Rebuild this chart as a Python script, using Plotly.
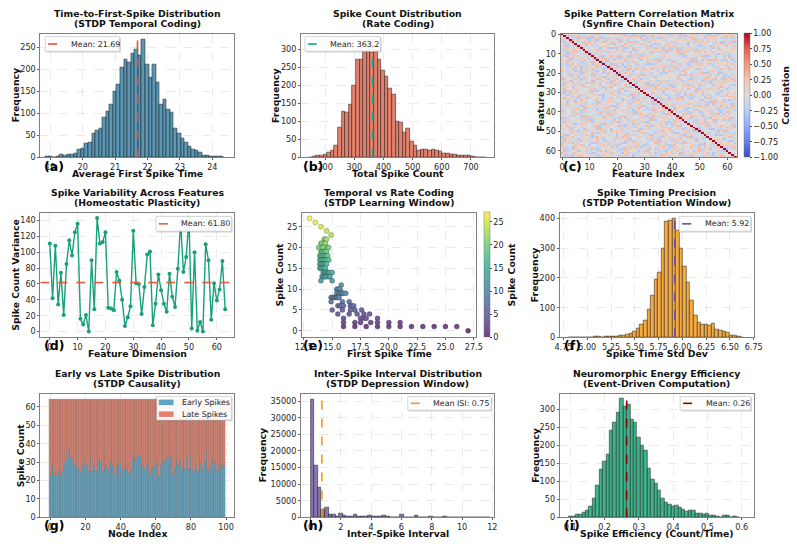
import plotly.graph_objects as go

W, H = 797, 549
FONT = "DejaVu Sans"

# ---------------- data ----------------
FIRST_SPIKE_BIN_START = 18.85
FIRST_SPIKE_BIN_WIDTH = 0.11
FIRST_SPIKE_COUNTS = [1, 1, 0, 1, 7, 5, 7, 6, 10, 18, 20, 31, 33, 55, 62, 66, 91, 105, 120, 150,
                      166, 205, 222, 216, 236, 245, 233, 268, 211, 183, 211, 170, 121, 132, 110,
                      102, 65, 54, 43, 35, 26, 18, 15, 11, 5, 4, 2, 2, 1, 1]
FIRST_SPIKE_MEAN = 21.69

SPIKE_COUNT_BIN_START = 145
SPIKE_COUNT_BIN_WIDTH = 12.35
SPIKE_COUNT_COUNTS = [1, 2, 4, 6, 8, 15, 18, 33, 82, 128, 125, 147, 200, 272, 270, 295, 327, 290,
                      300, 272, 240, 225, 190, 175, 100, 98, 68, 80, 45, 32, 20, 22, 22, 18, 22,
                      20, 16, 12, 10, 9, 8, 6, 5, 4, 4, 3, 1, 1, 1]
SPIKE_COUNT_MEAN = 363.2

# lower triangle of the correlation matrix, one digit per cell: value = (digit-4)*step
CORR_STEP = 0.1
CORR_ROWS = [
    "4536245137462534716243574265315476324516372453612754362417536245",
    "3654271536432574615324763514273645125376423157463524176354217465",
    "5243671453264751326457231645372415637245136742531674253614725364",
    "2645317546234157362451736245371564324617536241573462531746253174",
    "4375126435724615374263517462354174265317462351647325416735241675",
    "6234517436257143625744351264733526415437263345162744356213574436",
    "3544627335146452736443517246335427614453362741554632147365443625",
    "4426375315446237455136427334652714456335241762453346157243654431",
    "5334624475163342576643135724463155742364431265734452631475344263",
    "2465344153627745332641457365243317456624354137462553146274433562",
    "4637253344165427336542471355264431736524453617234465325714436355",
    "3452664713342556743154426357341465237154436627345514263374465231",
    "5643321745536244735162344575126634453271564433625147354426735443",
    "4315576234446521374653342617455363241775343526614437253346521476",
    "3646453172445367215344763526147354436251743365424715634452367143",
    "5423374654136625437714453362745136424557316453342671543365427134",
    "4356214736453547126634455217364435265137446235574131645236475344",
    "6344527135644372155364427315463342671445356127436345217564423365",
    "3527464315543622746531446357243316452776341435256344716524433657",
    "4463125574346621537354426147365334572164453362745134465237155426",
    "5236447315624437652143356724415363427154663352471446325731645442",
    "3414576623543317465264435271563344126574335461273654431576234465",
    "4652331746544236715346227534416653247315446623571435442673154336",
    "2574436615234475532614634574213365447261535442367154326647354413",
    "4345165273644531726456334271546653324471536446251733546214567344",
    "5637241443565232714465367312544635216745344563127463355241744635",
    "3426554731452366741352446573213645547326414536647231554463721546",
    "4553217664335427416535247361445337265144635723461546334275163452",
    "3664451327543362147465533416725443362175346644532174356273441563",
    "5235647413346526371445635247316533447261536645321574463325764143",
    "4446325176534413627554362314675443526137645335214763445627315436",
    "3572466314554236174325564137245363442716553344276135462473516344",
]

FEATURE_VARIANCE = [111, 42, 108, 34, 74, 21, 85, 115, 96, 125, 136, 16, 9, 21, 0, 90, 28, 143,
                    111, 113, 125, 30, 29, 27, 75, 64, 40, 7, 18, 32, 127, 61, 60, 22, 56, 97,
                    101, 8, 35, 72, 52, 35, 25, 73, 44, 31, 79, 138, 75, 94, 143, 4, 100, 1, 12,
                    0, 110, 90, 15, 61, 39, 53, 89, 28]
FEATURE_VARIANCE_MEAN = 61.80

SCATTER_TIME = [13.0, 13.5, 14.0, 14.5, 14.9,
                14.3, 14.4, 14.5,
                14.0, 14.1, 14.3, 14.4,
                13.8, 14.1, 14.2, 14.6, 14.7,
                14.0, 14.1, 14.2, 14.3, 14.4, 14.5,
                13.9, 14.0, 14.1, 14.2, 14.3, 14.4, 14.5, 14.6,
                13.9, 14.0, 14.1, 14.2, 14.3, 14.4, 14.5, 14.7,
                13.9, 14.0, 14.1, 14.2, 14.3, 14.4, 14.5,
                13.9, 14.0, 14.1, 14.2, 14.3, 14.4,
                14.2, 14.3, 14.4, 14.5, 14.6, 14.7, 14.8, 15.0,
                14.1, 14.2, 14.3, 14.4, 14.5, 14.7, 14.8,
                14.0, 15.0,
                15.8,
                15.4, 15.5, 15.6, 15.7,
                15.4, 15.6, 15.7, 15.8, 15.9, 16.0, 16.2,
                14.9, 15.0, 15.1, 15.2, 15.3, 15.4, 15.5, 15.6,
                14.9, 15.9, 16.5,
                15.5, 15.7, 15.8, 16.0, 16.6, 16.7, 16.9,
                15.0, 15.9, 16.6, 17.0, 17.6,
                15.5, 16.5, 17.2, 17.8, 18.3,
                16.0, 17.5, 17.8, 18.0, 19.0,
                16.0, 17.0, 17.5, 18.4, 19.0, 20.0, 21.0,
                16.0, 17.0, 18.0, 19.0, 20.0, 21.0, 22.0, 23.0, 24.0, 25.0, 26.0,
                27.0]
SCATTER_COUNT = ([27, 26, 25, 24, 23] + [22] * 3 + [21] * 4 + [20] * 5 + [19] * 6 + [18] * 8
                 + [17] * 8 + [16] * 7 + [15] * 6 + [14] * 8 + [13] * 7 + [12] * 2 + [11]
                 + [10] * 4 + [9] * 7 + [8] * 8 + [7] * 3 + [6] * 7 + [5] * 5 + [4] * 5
                 + [3] * 5 + [2] * 7 + [1] * 11 + [0])

PRECISION_BIN_START = 4.803
PRECISION_BIN_WIDTH = 0.0376
PRECISION_COUNTS = [1, 0, 1, 0, 1, 0, 1, 2, 2, 1, 2, 2, 3, 3, 6, 8, 10, 13, 20, 30,
                    45, 58, 95, 140, 195, 218, 300, 390, 393, 400, 360, 300, 240, 185, 124, 75, 50,
                    44, 42, 40, 47, 28, 22, 20, 15, 8, 5, 3, 1]
PRECISION_MEAN = 5.92

EARLY_SPIKES = [23, 28, 24, 23, 23, 25, 23, 25, 30, 32, 27, 37, 32, 32, 28, 28, 26, 25, 28, 26,
                30, 28, 25, 32, 25, 28, 25, 32, 31, 30, 25, 27, 28, 26, 30, 36, 28, 23, 28, 28,
                30, 25, 27, 29, 26, 24, 26, 32, 31, 32, 34, 33, 30, 27, 26, 29, 26, 23, 27, 27,
                19, 30, 22, 28, 31, 30, 32, 32, 27, 33, 23, 27, 31, 28, 31, 26, 32, 26, 32, 26,
                34, 26, 25, 28, 25, 31, 29, 26, 30, 36, 25, 27, 31, 26, 29, 25, 29, 26, 28, 28]
TOTAL_SPIKES = 64

ISI_BIN_START = 0.0
ISI_BIN_WIDTH = 0.237
ISI_COUNTS = [35500, 15700, 9100, 2300, 2900, 800, 800, 400, 1200, 500,
              400, 300, 800, 300, 200, 200, 700, 200, 200, 200,
              600, 150, 100, 100, 100, 800, 100, 100, 100, 500,
              100, 100, 100, 400, 100, 100, 100, 250, 50, 50,
              50, 50, 100, 50, 50, 50, 50, 50, 50, 50]
ISI_MEAN = 0.75

EFF_BIN_START = 0.0947
EFF_BIN_WIDTH = 0.01
EFF_COUNTS = [2, 3, 7, 9, 13, 18, 30, 52, 88, 133, 155, 175, 240, 262, 290, 328, 308, 313, 272, 263,
              222, 198, 185, 135, 105, 95, 75, 52, 40, 35, 30, 32, 28, 22, 17, 18, 18, 12, 12, 8,
              12, 5, 4, 3, 1, 4, 4, 1, 2, 1]
EFF_MEAN = 0.2645

# ---------------- colours ----------------
C_A, C_A_MEAN = "rgb(90,152,182)", "#e74c3c"
C_B, C_B_MEAN = "rgb(226,128,108)", "#17a589"
C_D, C_D_MEAN = "#17a07a", "#e05d44"
C_F, C_F_MEAN = "rgb(246,170,64)", "#6c4fa0"
C_EARLY, C_LATE = "rgb(95,164,196)", "rgb(228,128,108)"
C_H, C_H_MEAN = "rgb(137,118,176)", "#f39c12"
C_I, C_I_MEAN = "rgb(64,178,138)", "#8b0000"

# ---------------- layout helpers ----------------
BOXES = [  # x0, x1, y0, y1 in pixels
    (34, 232, 30, 156), (300, 497, 30, 156), (565, 745, 30, 156),
    (34, 232, 212, 339), (301, 479, 212, 339), (564, 762, 212, 339),
    (34, 232, 396, 522), (300, 497, 396, 522), (564, 762, 396, 522),
]

TICK_SIZE = 8.1
LABEL_SIZE = 9.3
LEG_SIZE = 7.9


def px(p):
    return p / W


def py(p):
    return 1 - p / H


def sfx(i):
    return "" if i == 1 else str(i)


COOLWARM = [[0.0, "rgb(59,76,192)"], [0.125, "rgb(98,130,234)"], [0.25, "rgb(141,176,254)"],
            [0.375, "rgb(184,208,249)"], [0.5, "rgb(221,221,221)"], [0.625, "rgb(245,196,173)"],
            [0.75, "rgb(244,154,123)"], [0.875, "rgb(222,96,77)"], [1.0, "rgb(180,4,38)"]]
VIR = ["#440154", "#482878", "#3e4989", "#31688e", "#26828e", "#1f9e89", "#35b779", "#6ece58",
       "#b5de2b", "#fde725"]


def fade(h, a=0.75):
    r, g, b = int(h[1:3], 16), int(h[3:5], 16), int(h[5:7], 16)
    return "rgb(%d,%d,%d)" % tuple(round(a * c + (1 - a) * 255) for c in (r, g, b))


VIRIDIS_FADED = [[k / (len(VIR) - 1), fade(c)] for k, c in enumerate(VIR)]

fig = go.Figure()
EDGE = dict(color="rgba(25,25,25,0.75)", width=0.7)


def hist(i, start, width, counts, color):
    centers = [start + width * (k + 0.5) for k in range(len(counts))]
    fig.add_trace(go.Bar(x=centers, y=counts, width=width, marker=dict(color=color, line=EDGE),
                         showlegend=False, hoverinfo="skip",
                         xaxis="x" + sfx(i), yaxis="y" + sfx(i)))


def vline(i, xval, yr, color, name):
    fig.add_trace(go.Scatter(x=[xval, xval], y=yr, mode="lines", name=name, showlegend=False,
                             line=dict(color=color, width=1.6, dash="dash"),
                             xaxis="x" + sfx(i), yaxis="y" + sfx(i)))


# (a)
hist(1, FIRST_SPIKE_BIN_START, FIRST_SPIKE_BIN_WIDTH, FIRST_SPIKE_COUNTS, C_A)
vline(1, FIRST_SPIKE_MEAN, [0, 282], C_A_MEAN, f"Mean: {FIRST_SPIKE_MEAN:.2f}")
# (b)
hist(2, SPIKE_COUNT_BIN_START, SPIKE_COUNT_BIN_WIDTH, SPIKE_COUNT_COUNTS, C_B)
vline(2, SPIKE_COUNT_MEAN, [0, 343], C_B_MEAN, f"Mean: {SPIKE_COUNT_MEAN:.1f}")

# (c)
N = 64
corr_digits = "".join(CORR_ROWS)
Z = [[0.0] * N for _ in range(N)]
k = 0
for r in range(N):
    Z[r][r] = 1.0
    for c in range(r):
        v = (int(corr_digits[k % len(corr_digits)]) - 4) * CORR_STEP
        k += 1
        Z[r][c] = v
        Z[c][r] = v


def cbar(x, y1, length, tickvals, title, fmt=None):
    d = dict(x=px(x), xanchor="left", xpad=0, y=py(y1), yanchor="bottom",
             len=length / H, lenmode="fraction", thickness=6, thicknessmode="pixels", ypad=0,
             outlinewidth=0.5, outlinecolor="#777", ticks="outside", ticklen=2,
             tickvals=tickvals, tickfont=dict(size=TICK_SIZE, family=FONT, color="#222"),
             title=dict(text=f"<b>{title}</b>", side="right",
                        font=dict(size=LABEL_SIZE, family=FONT, color="#111")))
    if fmt:
        d["tickformat"] = fmt
    return d


fig.add_trace(go.Heatmap(
    z=Z, x=list(range(N)), y=list(range(N)), colorscale=COOLWARM, zmin=-1, zmax=1,
    hoverinfo="skip", xaxis="x3", yaxis="y3",
    colorbar=cbar(752, 156, 126, [-1, -0.75, -0.5, -0.25, 0, 0.25, 0.5, 0.75, 1],
                  "Correlation", ".2f")))

# (d)
fig.add_trace(go.Scatter(x=list(range(len(FEATURE_VARIANCE))), y=FEATURE_VARIANCE,
                         mode="lines+markers", line=dict(color=C_D, width=1.4),
                         marker=dict(size=4, color=C_D), showlegend=False,
                         xaxis="x4", yaxis="y4"))
fig.add_trace(go.Scatter(x=[-3.4, 66.3], y=[FEATURE_VARIANCE_MEAN] * 2, mode="lines",
                         showlegend=False, line=dict(color=C_D_MEAN, width=1.6, dash="dash"),
                         xaxis="x4", yaxis="y4"))

# (e)
fig.add_trace(go.Scatter(
    x=SCATTER_TIME, y=SCATTER_COUNT, mode="markers", showlegend=False, xaxis="x5", yaxis="y5",
    marker=dict(size=5, color=SCATTER_COUNT, colorscale=VIRIDIS_FADED, cmin=0, cmax=27,
                line=dict(color="rgba(0,0,0,0.55)", width=0.4),
                colorbar=cbar(487, 339, 127, [0, 5, 10, 15, 20, 25], "Spike Count"))))

# (f)
hist(6, PRECISION_BIN_START, PRECISION_BIN_WIDTH, PRECISION_COUNTS, C_F)
vline(6, PRECISION_MEAN, [0, 420], C_F_MEAN, f"Mean: {PRECISION_MEAN:.2f}")

# (g)
nodes = list(range(len(EARLY_SPIKES)))
late = [TOTAL_SPIKES - e for e in EARLY_SPIKES]
GEDGE = dict(color="rgba(110,110,110,0.75)", width=0.5)
fig.add_trace(go.Bar(x=nodes, y=EARLY_SPIKES, width=1.0, name="Early Spikes", showlegend=False,
                     marker=dict(color=C_EARLY, line=GEDGE), xaxis="x7", yaxis="y7"))
fig.add_trace(go.Bar(x=nodes, y=late, base=EARLY_SPIKES, width=1.0, name="Late Spikes",
                     showlegend=False, marker=dict(color=C_LATE, line=GEDGE),
                     xaxis="x7", yaxis="y7"))

# (h)
hist(8, ISI_BIN_START, ISI_BIN_WIDTH, ISI_COUNTS, C_H)
vline(8, ISI_MEAN, [0, 37300], C_H_MEAN, f"Mean ISI: {ISI_MEAN:.2f}")

# (i)
hist(9, EFF_BIN_START, EFF_BIN_WIDTH, EFF_COUNTS, C_I)
vline(9, EFF_MEAN, [0, 343], C_I_MEAN, f"Mean: {EFF_MEAN:.2f}")

# ---------------- axes ----------------
BASE = dict(showline=True, linecolor="#808080", linewidth=1, mirror=True, ticks="outside",
            ticklen=2, tickwidth=0.8, tickcolor="#606060", showgrid=True,
            gridcolor="rgba(0,0,0,0.08)", griddash="dash", gridwidth=0.6, zeroline=False,
            tickfont=dict(size=TICK_SIZE, color="#262626", family=FONT), fixedrange=True)

XCFG = [
    dict(range=[18.69, 24.68], dtick=1),
    dict(range=[117, 779], dtick=100),
    dict(range=[-0.5, 63.5], tickvals=[0, 10, 20, 30, 40, 50, 60], showgrid=False),
    dict(range=[-3.4, 66.3], dtick=10),
    dict(range=[12.33, 27.73], tick0=12.5, dtick=2.5, tickformat=".1f"),
    dict(range=[4.71, 6.75], tick0=5, dtick=0.25, tickformat=".2f"),
    dict(range=[-5.7, 104.7], dtick=20),
    dict(range=[-0.63, 12.11], dtick=2),
    dict(range=[0.069, 0.635], tick0=0, dtick=0.1, tickformat=".1f"),
]
YCFG = [
    dict(range=[0, 282], dtick=50),
    dict(range=[0, 343], dtick=50),
    dict(range=[63.5, -0.5], tickvals=[0, 10, 20, 30, 40, 50, 60], showgrid=False),
    dict(range=[-7.4, 150], dtick=20),
    dict(range=[-1.6, 28.4], dtick=5),
    dict(range=[0, 420], dtick=100),
    dict(range=[0, 67.2], dtick=10),
    dict(range=[0, 37300], dtick=5000, tickformat="d"),
    dict(range=[0, 343], dtick=50),
]

layout = dict(width=W, height=H, margin=dict(l=0, r=0, t=0, b=0), plot_bgcolor="white",
              paper_bgcolor="white", font=dict(family=FONT, size=TICK_SIZE, color="#222"),
              barmode="overlay", bargap=0, hovermode=False, showlegend=False)

for i, (x0, x1, y0, y1) in enumerate(BOXES, start=1):
    xa = dict(BASE)
    xa.update(XCFG[i - 1])
    xa.update(domain=[px(x0), px(x1)], anchor="y" + sfx(i))
    ya = dict(BASE)
    ya.update(YCFG[i - 1])
    ya.update(domain=[py(y1), py(y0)], anchor="x" + sfx(i))
    layout["xaxis" + sfx(i)] = xa
    layout["yaxis" + sfx(i)] = ya

TITLES = [
    ("Time-to-First-Spike Distribution", "(STDP Temporal Coding)"),
    ("Spike Count Distribution", "(Rate Coding)"),
    ("Spike Pattern Correlation Matrix", "(Synfire Chain Detection)"),
    ("Spike Variability Across Features", "(Homeostatic Plasticity)"),
    ("Temporal vs Rate Coding", "(STDP Learning Window)"),
    ("Spike Timing Precision", "(STDP Potentiation Window)"),
    ("Early vs Late Spike Distribution", "(STDP Causality)"),
    ("Inter-Spike Interval Distribution", "(STDP Depression Window)"),
    ("Neuromorphic Energy Efficiency", "(Event-Driven Computation)"),
]
XTITLES = ["Average First Spike Time", "Total Spike Count", "Feature Index", "Feature Dimension",
           "First Spike Time", "Spike Time Std Dev", "Node Index", "Inter-Spike Interval",
           "Spike Efficiency (Count/Time)"]
YTITLES = ["Frequency", "Frequency", "Feature Index", "Spike Count Variance", "Spike Count",
           "Frequency", "Spike Count", "Frequency", "Frequency"]
YTITLE_X = [9, 274, 544, 9, 279, 539, 14, 261, 539]
LABELS = ["(a)", "(b)", "(c)", "(d)", "(e)", "(f)", "(g)", "(h)", "(i)"]
LABEL_X = [48, 312, 577]
LABEL_Y = [165, 347, 530]


def text(t, x, y, size, xanchor="center", angle=0, color="#111"):
    return dict(text=t, x=px(x), y=py(y), xref="paper", yref="paper", xanchor=xanchor,
                yanchor="middle", textangle=angle, showarrow=False,
                font=dict(size=size, family=FONT, color=color))


ann = []
for i, (x0, x1, y0, y1) in enumerate(BOXES):
    cx = (x0 + x1) / 2
    ann.append(text(f"<b>{TITLES[i][0]}</b>", cx, y0 - 20, LABEL_SIZE))
    ann.append(text(f"<b>{TITLES[i][1]}</b>", cx, y0 - 10, LABEL_SIZE))
    ann.append(text(f"<b>{XTITLES[i]}</b>", cx, y1 + 16, LABEL_SIZE))
    ann.append(text(f"<b>{YTITLES[i]}</b>", YTITLE_X[i], (y0 + y1) / 2, LABEL_SIZE, angle=-90))
    ann.append(text(f"<b>{LABELS[i]}</b>", LABEL_X[i % 3], LABEL_Y[i // 3], 12.5, color="#000"))

# ---------------- legends (matplotlib-style boxes) ----------------
shapes = []


def legend_box(x0, y0, x1, y1):
    shapes.append(dict(type="rect", xref="paper", yref="paper", layer="above",
                       x0=px(x0 + 1.2), x1=px(x1 + 1.2), y0=py(y1 + 1.2), y1=py(y0 + 1.2),
                       line=dict(width=0), fillcolor="rgba(0,0,0,0.18)"))
    shapes.append(dict(type="rect", xref="paper", yref="paper", layer="above",
                       x0=px(x0), x1=px(x1), y0=py(y1), y1=py(y0),
                       line=dict(color="#cccccc", width=0.8), fillcolor="rgba(255,255,255,0.95)"))


def legend_line(x0, x1, y, color, label):
    shapes.append(dict(type="line", xref="paper", yref="paper", layer="above",
                       x0=px(x0), x1=px(x1), y0=py(y), y1=py(y),
                       line=dict(color=color, width=1.6, dash="dash")))
    ann.append(text(label, x1 + 6, y, LEG_SIZE, xanchor="left", color="#262626"))


def legend_patch(x0, x1, y, color, label):
    shapes.append(dict(type="rect", xref="paper", yref="paper", layer="above",
                       x0=px(x0), x1=px(x1), y0=py(y + 2.8), y1=py(y - 2.8),
                       line=dict(width=0), fillcolor=color))
    ann.append(text(label, x1 + 7, y, LEG_SIZE, xanchor="left", color="#262626"))


legend_box(39, 33, 115, 48)
legend_line(42, 57, 40.7, C_A_MEAN, f"Mean: {FIRST_SPIKE_MEAN:.2f}")
legend_box(304, 33, 381, 48)
legend_line(307, 322, 40.7, C_B_MEAN, f"Mean: {SPIKE_COUNT_MEAN:.1f}")
legend_box(152, 216, 229, 231)
legend_line(155, 170, 223.5, C_D_MEAN, f"Mean: {FEATURE_VARIANCE_MEAN:.2f}")
legend_box(686, 216, 759, 231)
legend_line(689, 704, 223.5, C_F_MEAN, f"Mean: {PRECISION_MEAN:.2f}")
legend_box(153, 399, 229, 423)
legend_patch(155, 170, 405, C_EARLY, "Early Spikes")
legend_patch(155, 170, 417, C_LATE, "Late Spikes")
legend_box(409, 399, 494, 413)
legend_line(412, 427, 406, C_H_MEAN, f"Mean ISI: {ISI_MEAN:.2f}")
legend_box(687, 399, 759, 413)
legend_line(690, 705, 406, C_I_MEAN, f"Mean: {EFF_MEAN:.2f}")

layout["annotations"] = ann
layout["shapes"] = shapes

fig.update_layout(**layout)
fig.write_html("out.html", include_plotlyjs=True, config={"displayModeBar": False})
